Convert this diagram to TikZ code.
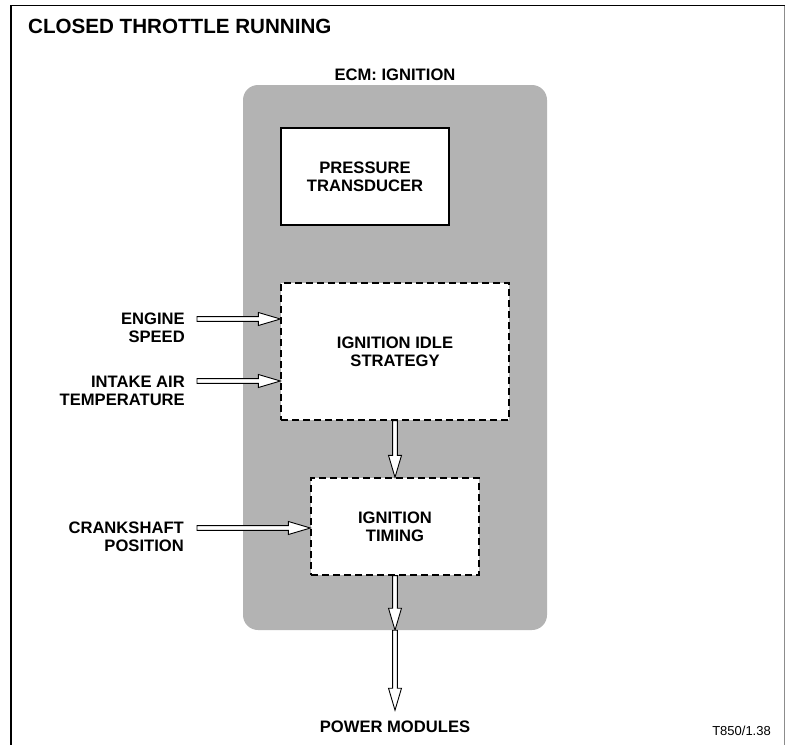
\documentclass[tikz,border=0pt]{standalone}
\usepackage{fontspec}
\setmainfont{Liberation Sans}
\usetikzlibrary{calc}
\definecolor{ecmgray}{HTML}{B3B3B3}
\newcommand\hollowarrow[2]{%
  \path (#1) coordinate (hA) (#2) coordinate (hB);
  \path ($(hB)!22pt!(hA)$) coordinate (hC);
  \draw[arrowshape]
    ($(hA)!2.4pt!90:(hB)$) -- ($(hC)!2.4pt!-90:(hA)$) -- ($(hC)!6.5pt!-90:(hA)$) --
    (hB) -- ($(hC)!6.5pt!90:(hA)$) -- ($(hC)!2.4pt!90:(hA)$) --
    ($(hA)!2.4pt!-90:(hB)$) -- cycle;
}
\begin{document}
\begin{tikzpicture}[x=1pt,y=-1pt,
  lbl/.style={font=\fontsize{16.6}{18}\selectfont\bfseries, inner sep=0pt, align=right},
  boxtxt/.style={font=\fontsize{16.6}{18}\selectfont\bfseries, align=center},
  solidbox/.style={draw, line width=1.2pt, fill=white, minimum width=168pt, minimum height=97pt, inner sep=0pt, boxtxt},
  dashbox/.style={draw, line width=1.2pt, dash pattern=on 7pt off 4pt, fill=white, inner sep=0pt, boxtxt},
  arrowshape/.style={draw=black, fill=white, line width=0.9pt, line join=miter}
]
\useasboundingbox (0,0) rectangle (786,744);
% frame
\draw[line width=1.4pt] (11,750) -- (11,5.5) -- (784.5,5.5);
\draw[line width=1pt, black!45] (784.5,5.5) -- (784.5,750);
% title
\node[anchor=base west, inner sep=0pt, font=\fontsize{20.6}{24}\selectfont\bfseries] (title) at (28,33) {CLOSED THROTTLE RUNNING};
\node[anchor=base, inner sep=0pt, font=\fontsize{16.6}{18}\selectfont\bfseries] (ecmlbl) at (395,80) {ECM: IGNITION};
% ECM area
\node[fill=ecmgray, rounded corners=15pt, minimum width=304pt, minimum height=545pt, inner sep=0pt] (ecm) at (395,357.5) {};
% boxes
\node[solidbox] (pt) at (365,176.5) {PRESSURE\\TRANSDUCER};
\node[dashbox, minimum width=228pt, minimum height=137pt] (idle) at (395,351.5) {IGNITION IDLE\\STRATEGY};
\node[dashbox, minimum width=168pt, minimum height=97pt] (timing) at (395,526.5) {IGNITION\\TIMING};
% labels
\node[lbl, anchor=east] (es) at (185,328) {ENGINE\\SPEED};
\node[lbl, anchor=east] (iat) at (185,391) {INTAKE AIR\\TEMPERATURE};
\node[lbl, anchor=east] (cs) at (184,537) {CRANKSHAFT\\POSITION};
\node[anchor=base, inner xsep=0pt, inner ysep=10pt, font=\fontsize{16.6}{18}\selectfont\bfseries] (pm) at (395,732) {POWER MODULES};
\node[anchor=base east, inner sep=0pt, font=\fontsize{13}{15}\selectfont] (ref) at (771,735) {T850/1.38};
% arrow start points
\coordinate (esS) at (197,319);
\coordinate (iatS) at (197,381);
\coordinate (csS) at (197,528);
% arrows
\hollowarrow{esS}{esS -| idle.west}
\hollowarrow{iatS}{iatS -| idle.west}
\hollowarrow{csS}{csS -| timing.west}
\hollowarrow{idle.south}{timing.north}
\hollowarrow{timing.south}{ecm.south}
\hollowarrow{ecm.south}{pm.north}
\end{tikzpicture}
\end{document}
